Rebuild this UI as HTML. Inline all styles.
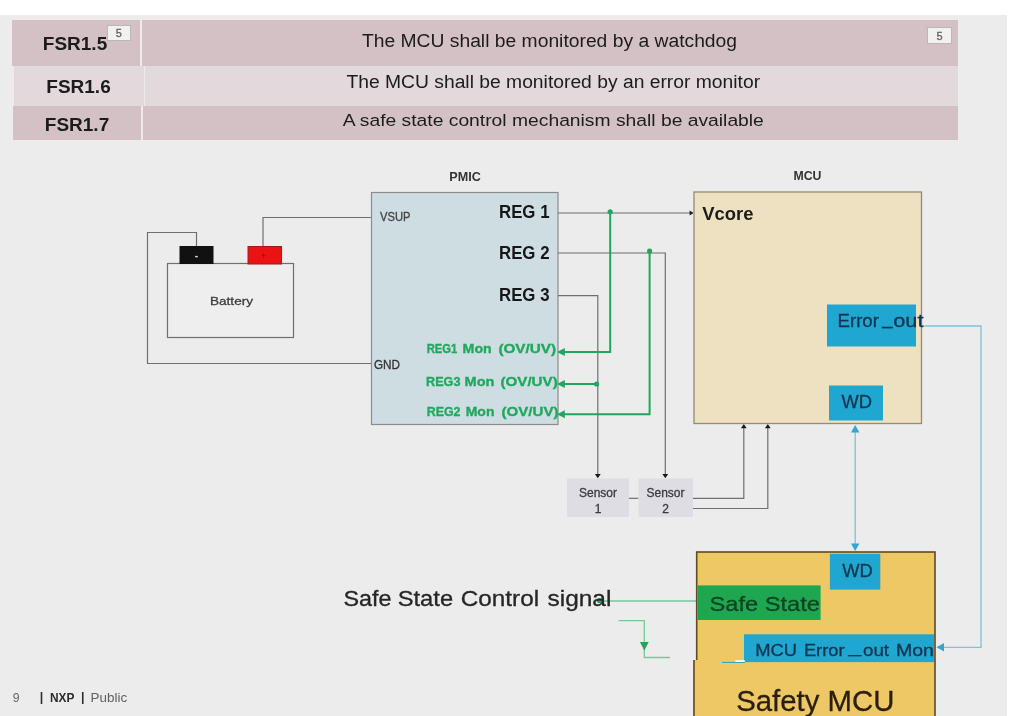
<!DOCTYPE html>
<html lang="en">
<head>
<meta charset="utf-8">
<title>Functional safety requirements - PMIC / MCU / Safety MCU</title>
<style>
  html, body { margin: 0; padding: 0; background: #ffffff; }
  body { width: 1026px; height: 716px; overflow: hidden; position: relative;
         font-family: "Liberation Sans", sans-serif; }
  #slide { position: absolute; left: 0; top: 15px; width: 1007px; height: 701px; background: #ececec; }
  .row { position: absolute; }
  .cell { position: absolute; top: 0; bottom: 0; display: flex; align-items: center; justify-content: center;
          color: #1c1c1c; white-space: nowrap; }
  .id { font-weight: bold; font-size: 19px; }
  .req { font-size: 19.3px; }
  .tag { position: absolute; background: #f1f1f1; border: 1px solid #b8b8b8; box-sizing: border-box;
         color: #606060; font-size: 11px; line-height: 15px; text-align: center; -webkit-text-stroke: 0.3px #606060; }
  svg { position: absolute; left: 0; top: 0; filter: blur(0.35px); }
  #reqs { position: absolute; left: 0; top: 0; width: 1007px; height: 150px; filter: blur(0.35px); }
  svg text { font-family: "Liberation Sans", sans-serif; }
  .thin text, text.thin { stroke: currentColor; stroke-width: 0.3px; }
</style>
</head>
<body>
<div id="slide"></div>

<!-- requirements table -->
<div id="reqs">
<div class="row" style="left:12px; top:20.3px; width:946px; height:45.4px;">
  <div class="cell id" style="left:0; width:128px; background:#d4c1c5;"><span style="position:relative; left:-1px; top:1.5px;">FSR1.5</span></div>
  <div class="cell req" style="left:130px; right:0; background:#d4c1c5;"><span style="display:inline-block; position:relative; left:-0.5px; top:-1.9px; transform:scaleY(0.94);">The MCU shall be monitored by a watchdog</span></div>
</div>
<div class="row" style="left:13.5px; top:65.7px; width:944.5px; height:40.3px;">
  <div class="cell id" style="left:0; width:130px; background:#e1d9dc;"><span style="position:relative; left:0px; top:1.4px;">FSR1.6</span></div>
  <div class="cell req" style="left:131px; right:0; background:#e1d9dc;"><span style="display:inline-block; position:relative; left:2px; top:-3.6px; transform:scaleY(0.94);">The MCU shall be monitored by an error monitor</span></div>
</div>
<div class="row" style="left:13px; top:106px; width:945px; height:33.5px;">
  <div class="cell id" style="left:0; width:128px; background:#d4c1c5;"><span style="position:relative; left:0px; top:2px;">FSR1.7</span></div>
  <div class="cell req" style="left:130px; right:0; background:#d4c1c5;"><span style="display:inline-block; position:relative; left:2.75px; top:-2px; transform:scaleY(0.89);">A safe state control mechanism shall be available</span></div>
</div>
<div class="tag" style="left:106.6px; top:25.2px; width:24.6px; height:16.2px;">5</div>
<div class="tag" style="left:926.6px; top:26.8px; width:25.8px; height:17.4px; line-height:16px;">5</div>
</div>

<svg width="1026" height="716" viewBox="0 0 1026 716">
  <!-- battery -->
  <g fill="none" stroke="#6f6f6f" stroke-width="1.2">
    <path d="M196.5 246 V232.5 H147.5 V363.5 H371"/>
    <path d="M263 246 V217.5 H371"/>
    <rect x="167.5" y="263.5" width="126" height="74" fill="#eeeeee"/>
  </g>
  <rect x="179.5" y="246" width="34" height="18" fill="#111111"/>
  <rect x="248" y="246.5" width="33.5" height="17.5" fill="#ea1212" stroke="#a81818" stroke-width="1"/>
  <text x="196.5" y="258.5" font-size="10" font-weight="bold" fill="#e0e0e0" text-anchor="middle">-</text>
  <text x="263.5" y="258.5" font-size="9" fill="#8a1010" text-anchor="middle">+</text>
  <text class="thin" x="231.5" y="305.3" font-size="11.5" fill="#3c3c3c" color="#3c3c3c" text-anchor="middle" textLength="43" lengthAdjust="spacingAndGlyphs">Battery</text>

  <!-- PMIC -->
  <text x="465" y="180.8" font-size="13" font-weight="bold" fill="#333333" text-anchor="middle" textLength="31.5" lengthAdjust="spacingAndGlyphs">PMIC</text>
  <rect x="371.5" y="192.5" width="186.5" height="232" fill="#cddde1" stroke="#8c8c8c" stroke-width="1.2"/>
  <text class="thin" x="380" y="221" font-size="12.5" fill="#444444" color="#444444" textLength="30.5" lengthAdjust="spacingAndGlyphs">VSUP</text>
  <text class="thin" x="374" y="369" font-size="12.5" fill="#333333" color="#333333" textLength="26" lengthAdjust="spacingAndGlyphs">GND</text>
  <g font-size="18" font-weight="bold" fill="#161616">
    <text x="499" y="218" textLength="50.5" lengthAdjust="spacingAndGlyphs">REG 1</text>
    <text x="499" y="259.2" textLength="50.5" lengthAdjust="spacingAndGlyphs">REG 2</text>
    <text x="499" y="301" textLength="50.5" lengthAdjust="spacingAndGlyphs">REG 3</text>
  </g>
  <g font-size="13.6" font-weight="bold" fill="#20a85e" stroke="#20a85e" stroke-width="0.35">
    <text x="426.7" y="352.8"><tspan textLength="30.7" lengthAdjust="spacingAndGlyphs">REG1</tspan> <tspan x="462.6" textLength="29.1" lengthAdjust="spacingAndGlyphs">Mon</tspan> <tspan x="498.4" textLength="57.7" lengthAdjust="spacingAndGlyphs">(OV/UV)</tspan></text>
    <text x="426" y="385.9"><tspan textLength="34.5" lengthAdjust="spacingAndGlyphs">REG3</tspan> <tspan x="464.6" textLength="29.9" lengthAdjust="spacingAndGlyphs">Mon</tspan> <tspan x="500.5" textLength="57.2" lengthAdjust="spacingAndGlyphs">(OV/UV)</tspan></text>
    <text x="426.7" y="415.9"><tspan textLength="33.8" lengthAdjust="spacingAndGlyphs">REG2</tspan> <tspan x="465.7" textLength="28.8" lengthAdjust="spacingAndGlyphs">Mon</tspan> <tspan x="501.5" textLength="57" lengthAdjust="spacingAndGlyphs">(OV/UV)</tspan></text>
  </g>

  <!-- REG wires -->
  <g fill="none" stroke="#6f6f6f" stroke-width="1.2">
    <path d="M558 213 H692"/>
    <path d="M558 253 H665.3 V474"/>
    <path d="M558 295.6 H597.8 V474"/>
    <path d="M629 498.3 H638.5"/>
    <path d="M693 498.3 H743.8 V428"/>
    <path d="M693 508.5 H767.8 V428"/>
  </g>
  <g fill="#1a1a1a">
    <path d="M693.6 213 l-4 -2.6 v5.2 z"/>
    <path d="M597.8 478.3 l-2.9 -4.2 h5.8 z"/>
    <path d="M665.3 478.3 l-2.9 -4.2 h5.8 z"/>
    <path d="M743.8 424 l-2.9 4.2 h5.8 z"/>
    <path d="M767.8 424 l-2.9 4.2 h5.8 z"/>
  </g>

  <!-- monitor wires (green) -->
  <g fill="none" stroke="#22a55c" stroke-width="2">
    <path d="M610.2 212 V352 H562"/>
    <path d="M649.6 251 V414.3 H562"/>
    <path d="M597 384 H562"/>
  </g>
  <g fill="#22a55c">
    <circle cx="610.2" cy="211.8" r="2.6"/>
    <circle cx="649.6" cy="251" r="2.6"/>
    <circle cx="596.6" cy="384" r="2.6"/>
    <path d="M557 352 l7.8 -4 v8 z"/>
    <path d="M557 384 l7.8 -4 v8 z"/>
    <path d="M557 414.3 l7.8 -4 v8 z"/>
  </g>

  <!-- sensors -->
  <rect x="567" y="478.5" width="62" height="38.5" fill="#dedde3"/>
  <rect x="638.5" y="478.5" width="54.5" height="38.5" fill="#dedde3"/>
  <g class="thin" font-size="12" fill="#3c3c3c" color="#3c3c3c" text-anchor="middle">
    <text x="598" y="496.5" textLength="38" lengthAdjust="spacingAndGlyphs">Sensor</text>
    <text x="598" y="513">1</text>
    <text x="665.5" y="496.5" textLength="38" lengthAdjust="spacingAndGlyphs">Sensor</text>
    <text x="665.5" y="513">2</text>
  </g>

  <!-- MCU -->
  <text x="807.5" y="180.3" font-size="13" font-weight="bold" fill="#333333" text-anchor="middle" textLength="28" lengthAdjust="spacingAndGlyphs">MCU</text>
  <rect x="694" y="192" width="227.5" height="231.5" fill="#ede1c1" stroke="#968b72" stroke-width="1.3"/>
  <text x="702.2" y="220" font-size="18" font-weight="bold" fill="#1c1c1c" textLength="51.2" lengthAdjust="spacingAndGlyphs">Vcore</text>
  <rect x="827" y="304.5" width="89" height="42" fill="#1fa6d1"/>
  <text class="thin" x="837.5" y="326.6" font-size="18" fill="#0e3650" color="#0e3650"><tspan textLength="41.4" lengthAdjust="spacingAndGlyphs">Error</tspan><tspan x="882.2" dy="-2.6" textLength="10.2" lengthAdjust="spacingAndGlyphs">_</tspan><tspan x="893.2" dy="2.6" textLength="30.3" lengthAdjust="spacingAndGlyphs">out</tspan></text>
  <rect x="829" y="385.5" width="54" height="35" fill="#1fa6d1"/>
  <text class="thin" x="841.5" y="407.7" font-size="18" fill="#0e3650" color="#0e3650" textLength="30.5" lengthAdjust="spacingAndGlyphs">WD</text>

  <!-- watchdog / error links (blue) -->
  <g fill="none" stroke="#7cc2dc" stroke-width="1.3">
    <path d="M855.2 431 V545"/>
    <path d="M924.5 326 H981 V647.3 H943"/>
  </g>
  <g fill="#2fa7d0">
    <path d="M855.2 425 l-4.2 7.5 h8.4 z"/>
    <path d="M855.2 551 l-4.2 -7.5 h8.4 z"/>
    <path d="M936.5 647.3 l7.5 -4.2 v8.4 z"/>
  </g>

  <!-- safe state control signal -->
  <g fill="none" stroke="#74c8a0" stroke-width="1.3">
    <path d="M600 601 H697"/>
    <path d="M618.5 620.7 H644.3 V657.5 H670"/>
  </g>
  <circle cx="599.4" cy="600.6" r="2.6" fill="#22a55c"/>
  <path d="M644.3 650.5 l-4.4 -8.5 h8.8 z" fill="#22a55c"/>
  <text class="thin" x="343.5" y="605.8" font-size="21.3" fill="#262626" color="#262626"><tspan textLength="48" lengthAdjust="spacingAndGlyphs">Safe</tspan> <tspan x="397.7" textLength="55.4" lengthAdjust="spacingAndGlyphs">State</tspan> <tspan x="460.8" textLength="78.3" lengthAdjust="spacingAndGlyphs">Control</tspan> <tspan x="547.5" textLength="63.9" lengthAdjust="spacingAndGlyphs">signal</tspan></text>

  <!-- Safety MCU -->
  <rect x="696.7" y="552" width="238.3" height="170" fill="#eec864" stroke="#5e4a24" stroke-width="1.6"/>
  <rect x="693" y="660" width="6" height="60" fill="#eec864"/>
  <path d="M694 660 V716" stroke="#5e4a24" stroke-width="1.6" fill="none"/>
  <rect x="829.9" y="553.8" width="50.4" height="35.8" fill="#1fa6d1"/>
  <text class="thin" x="842.3" y="577" font-size="18" fill="#0e3650" color="#0e3650" textLength="30.5" lengthAdjust="spacingAndGlyphs">WD</text>
  <rect x="697.6" y="585.4" width="123" height="34.6" fill="#1fa650"/>
  <text x="709.5" y="610.6" font-size="21" fill="#0a4422" stroke="#0a4422" stroke-width="0.3" textLength="110.5" lengthAdjust="spacingAndGlyphs">Safe State</text>
  <rect x="744" y="634.3" width="190" height="27.8" fill="#1fa6d1"/>
  <text class="thin" x="755.3" y="655.6" font-size="16.2" fill="#0e3650" color="#0e3650"><tspan textLength="41.8" lengthAdjust="spacingAndGlyphs">MCU</tspan> <tspan x="803.9" textLength="40.6" lengthAdjust="spacingAndGlyphs">Error</tspan><tspan x="848.5" dy="-2.4" textLength="12.7" lengthAdjust="spacingAndGlyphs">_</tspan><tspan x="863" dy="2.4" textLength="26.1" lengthAdjust="spacingAndGlyphs">out</tspan> <tspan x="895.9" textLength="38" lengthAdjust="spacingAndGlyphs">Mon</tspan></text>
  <text class="thin" x="736.2" y="710.8" font-size="29.3" fill="#2a1e0c" color="#2a1e0c" textLength="158.3" lengthAdjust="spacingAndGlyphs">Safety MCU</text>
  <path d="M722 662.4 H745" stroke="#2a9ec8" stroke-width="1" fill="none"/>
  <rect x="735.3" y="660.2" width="9.5" height="1.8" fill="#ffffff"/>

  <!-- footer -->
  <g font-size="12.5">
    <text x="12.8" y="702.3" fill="#666666" textLength="6.8" lengthAdjust="spacingAndGlyphs">9</text>
    <text x="39.8" y="702" fill="#2c2c2c" font-weight="bold"><tspan dy="-1.2">|</tspan> <tspan x="49.9" dy="1.2" textLength="24.2" lengthAdjust="spacingAndGlyphs">NXP</tspan> <tspan x="81" dy="-1.2">|</tspan></text>
    <text x="90.5" y="702.3" fill="#606060" textLength="36.6" lengthAdjust="spacingAndGlyphs">Public</text>
  </g>
</svg>
</body>
</html>
